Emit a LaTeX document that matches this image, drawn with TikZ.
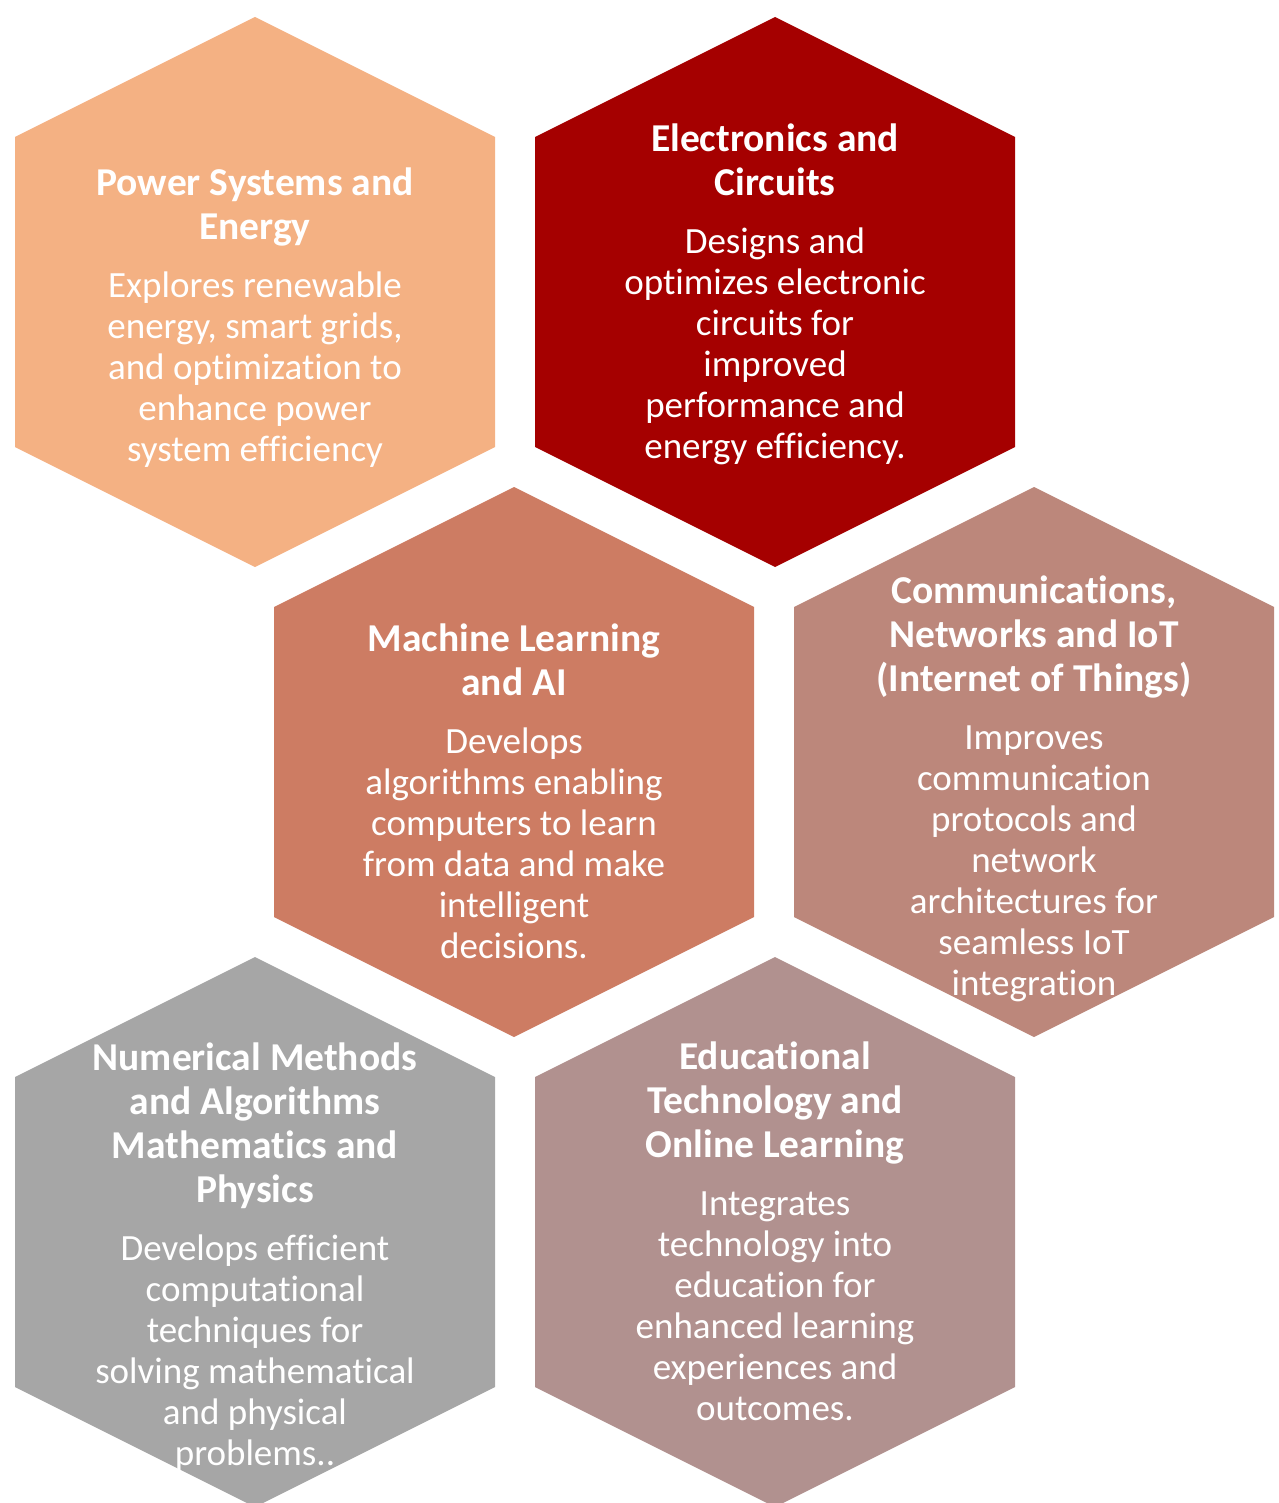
\documentclass[tikz,border=0pt]{standalone}
\usepackage{fontspec}
\setmainfont{Carlito}[Ligatures=NoCommon]
\usetikzlibrary{positioning}

\definecolor{pwrcol}{HTML}{F4B183}
\definecolor{elccol}{HTML}{A50000}
\definecolor{mlcol}{HTML}{CD7C63}
\definecolor{comcol}{HTML}{BC877B}
\definecolor{numcol}{HTML}{A6A6A6}
\definecolor{educol}{HTML}{B1918F}

\tikzset{
  hexttl/.style={anchor=north,align=center,text=white,inner sep=0pt,
    font=\fontsize{39.5}{44}\selectfont\bfseries},
  hextxt/.style={align=center,text=white,inner sep=0pt,
    font=\fontsize{37}{41}\selectfont},
}

\begin{document}
\begin{tikzpicture}[x=1pt,y=-1pt]
\useasboundingbox (0,0) rectangle (1278,1503);
\clip (0,0) rectangle (1278,1503);

\foreach \cx/\ty/\col in {255/17/pwrcol,775/17/elccol,514/487/mlcol,
                          1034/487/comcol,255/957/numcol,775/957/educol}
  \fill[\col] (\cx,\ty) -- ++(240,120) -- ++(0,310) -- ++(-240,120)
              -- ++(-240,-120) -- ++(0,-310) -- cycle;

\node[hexttl] (pwrttl) at (255,164.2) {\strut Power Systems and\\ Energy\strut};
\node[hextxt,below=16pt of pwrttl] (pwrtxt) {\strut Explores renewable\\ energy, smart grids,\\
  and optimization to\\ enhance power\\ system efficiency};

\node[hexttl] (elcttl) at (775,120.2) {\strut Electronics and\\ Circuits\strut};
\node[hextxt,below=16pt of elcttl] (elctxt) {\strut Designs and\\ optimizes electronic\\
  circuits for\\ improved\\ performance and\\ energy efficiency.};

\node[hexttl] (mlttl) at (514,620.2) {\strut Machine Learning\\ and AI\strut};
\node[hextxt,below=16pt of mlttl] (mltxt) {\strut Develops\\ algorithms enabling\\
  computers to learn\\ from data and make\\ intelligent\\ decisions.};

\node[hexttl] (comttl) at (1034,572.2) {\strut Communications,\\ Networks and IoT\\
  (Internet of Things)\strut};
\node[hextxt,below=16pt of comttl] (comtxt) {\strut Improves\\ communication\\
  protocols and\\ network\\ architectures for\\ seamless IoT\\ integration};

\node[hexttl] (numttl) at (255,1039.2) {\strut Numerical Methods\\ and Algorithms\\
  Mathematics and\\ Physics\strut};
\node[hextxt,below=16pt of numttl] (numtxt) {\strut Develops efficient\\ computational\\
  techniques for\\ solving mathematical\\ and physical\\ problems..};

\node[hexttl] (eduttl) at (775,1038.2) {\strut Educational\\ Technology and\\
  Online Learning\strut};
\node[hextxt,below=16pt of eduttl] (edutxt) {\strut Integrates\\ technology into\\
  education for\\ enhanced learning\\ experiences and\\ outcomes.};

\end{tikzpicture}
\end{document}
